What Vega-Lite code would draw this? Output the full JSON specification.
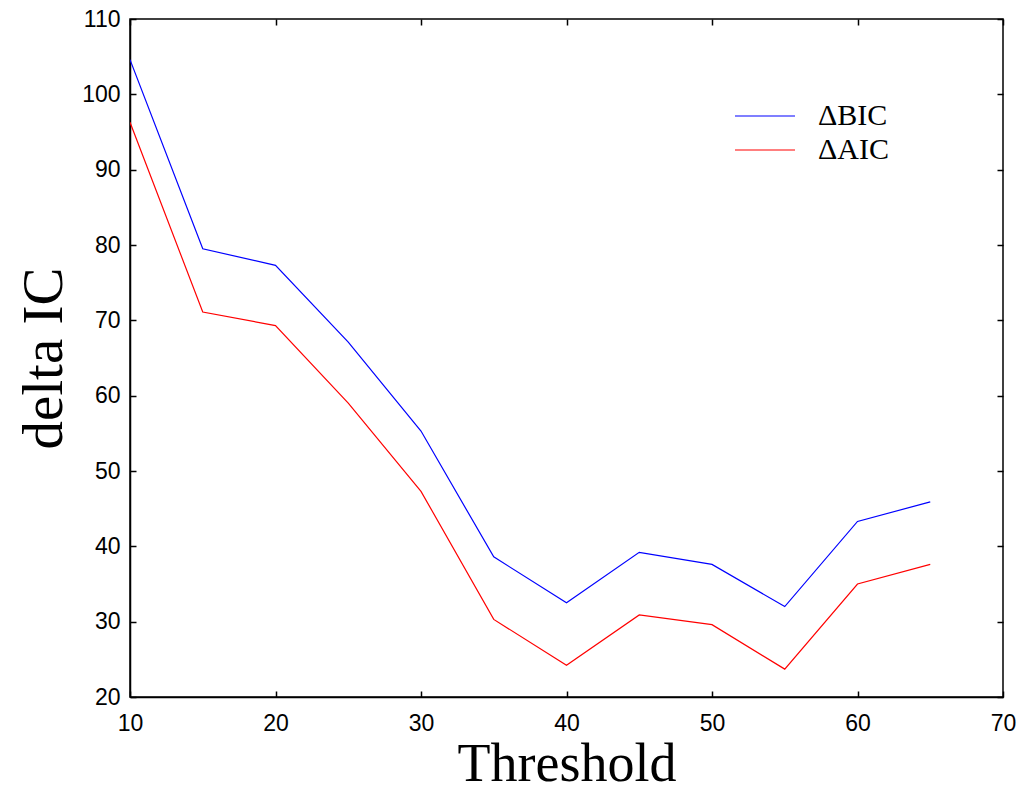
{
  "$schema": "https://vega.github.io/schema/vega-lite/v6.json",
  "width": 873,
  "height": 678,
  "autosize": {"type": "none"},
  "padding": {"left": 130, "top": 19, "right": 20, "bottom": 93},
  "background": "white",
  "config": {
    "view": {"stroke": "black", "strokeWidth": 1.5},
    "axis": {
      "grid": false,
      "domainColor": "black",
      "domainWidth": 1.5,
      "tickColor": "black",
      "tickWidth": 1.5,
      "tickSize": -6,
      "labelFont": "Liberation Sans",
      "labelFontSize": 23,
      "labelColor": "black",
      "titleFont": "Liberation Serif",
      "titleFontWeight": "normal",
      "titleColor": "black"
    }
  },
  "data": {
    "values": [
      {"t": 10, "v": 104.6, "s": "ΔBIC"},
      {"t": 15, "v": 79.5, "s": "ΔBIC"},
      {"t": 20, "v": 77.3, "s": "ΔBIC"},
      {"t": 25, "v": 67.1, "s": "ΔBIC"},
      {"t": 30, "v": 55.3, "s": "ΔBIC"},
      {"t": 35, "v": 38.6, "s": "ΔBIC"},
      {"t": 40, "v": 32.5, "s": "ΔBIC"},
      {"t": 45, "v": 39.2, "s": "ΔBIC"},
      {"t": 50, "v": 37.6, "s": "ΔBIC"},
      {"t": 55, "v": 32.0, "s": "ΔBIC"},
      {"t": 60, "v": 43.3, "s": "ΔBIC"},
      {"t": 65, "v": 45.9, "s": "ΔBIC"},
      {"t": 10, "v": 96.3, "s": "ΔAIC"},
      {"t": 15, "v": 71.1, "s": "ΔAIC"},
      {"t": 20, "v": 69.3, "s": "ΔAIC"},
      {"t": 25, "v": 59.0, "s": "ΔAIC"},
      {"t": 30, "v": 47.3, "s": "ΔAIC"},
      {"t": 35, "v": 30.3, "s": "ΔAIC"},
      {"t": 40, "v": 24.2, "s": "ΔAIC"},
      {"t": 45, "v": 30.9, "s": "ΔAIC"},
      {"t": 50, "v": 29.6, "s": "ΔAIC"},
      {"t": 55, "v": 23.7, "s": "ΔAIC"},
      {"t": 60, "v": 35.0, "s": "ΔAIC"},
      {"t": 65, "v": 37.6, "s": "ΔAIC"}
    ]
  },
  "layer": [
    {
      "mark": {"type": "line", "strokeWidth": 1.2, "clip": true},
      "encoding": {
        "x": {
          "field": "t", "type": "quantitative",
          "scale": {"domain": [10, 70], "nice": false, "zero": false},
          "axis": {"orient": "bottom", "values": [10, 20, 30, 40, 50, 60, 70], "title": "Threshold", "titleFontSize": 54, "titlePadding": 2, "labelPadding": 21, "labelFontSize": 23, "labelFlush": false}
        },
        "y": {
          "field": "v", "type": "quantitative",
          "scale": {"domain": [20, 110], "nice": false, "zero": false},
          "axis": {"orient": "left", "values": [20, 30, 40, 50, 60, 70, 80, 90, 100, 110], "title": "delta IC", "titleFontSize": 57, "titlePadding": 8, "labelPadding": 16, "labelFontSize": 23, "labelFlush": false}
        },
        "color": {
          "field": "s", "type": "nominal",
          "scale": {"domain": ["ΔBIC", "ΔAIC"], "range": ["#0000ff", "#ff0000"]},
          "legend": {
            "title": null,
            "orient": "none",
            "legendX": 616,
            "legendY": 78,
            "symbolType": "M-1.667,0H1.667",
            "symbolSize": 1296,
            "symbolStrokeWidth": 1.2,
            "symbolFillColor": "transparent",
            "labelFont": "Liberation Serif",
            "labelFontSize": 30,
            "labelColor": "black",
            "labelOffset": 34,
            "rowPadding": 0
          }
        }
      }
    },
    {
      "mark": {"type": "line", "opacity": 0},
      "encoding": {
        "x": {
          "field": "t", "type": "quantitative",
          "axis": {"orient": "top", "values": [10, 20, 30, 40, 50, 60, 70], "labels": false, "title": null, "domain": false}
        },
        "y": {
          "field": "v", "type": "quantitative",
          "axis": {"orient": "right", "values": [20, 30, 40, 50, 60, 70, 80, 90, 100, 110], "labels": false, "title": null, "domain": false}
        },
        "detail": {"field": "s"}
      }
    }
  ],
  "resolve": {"axis": {"x": "independent", "y": "independent"}}
}
